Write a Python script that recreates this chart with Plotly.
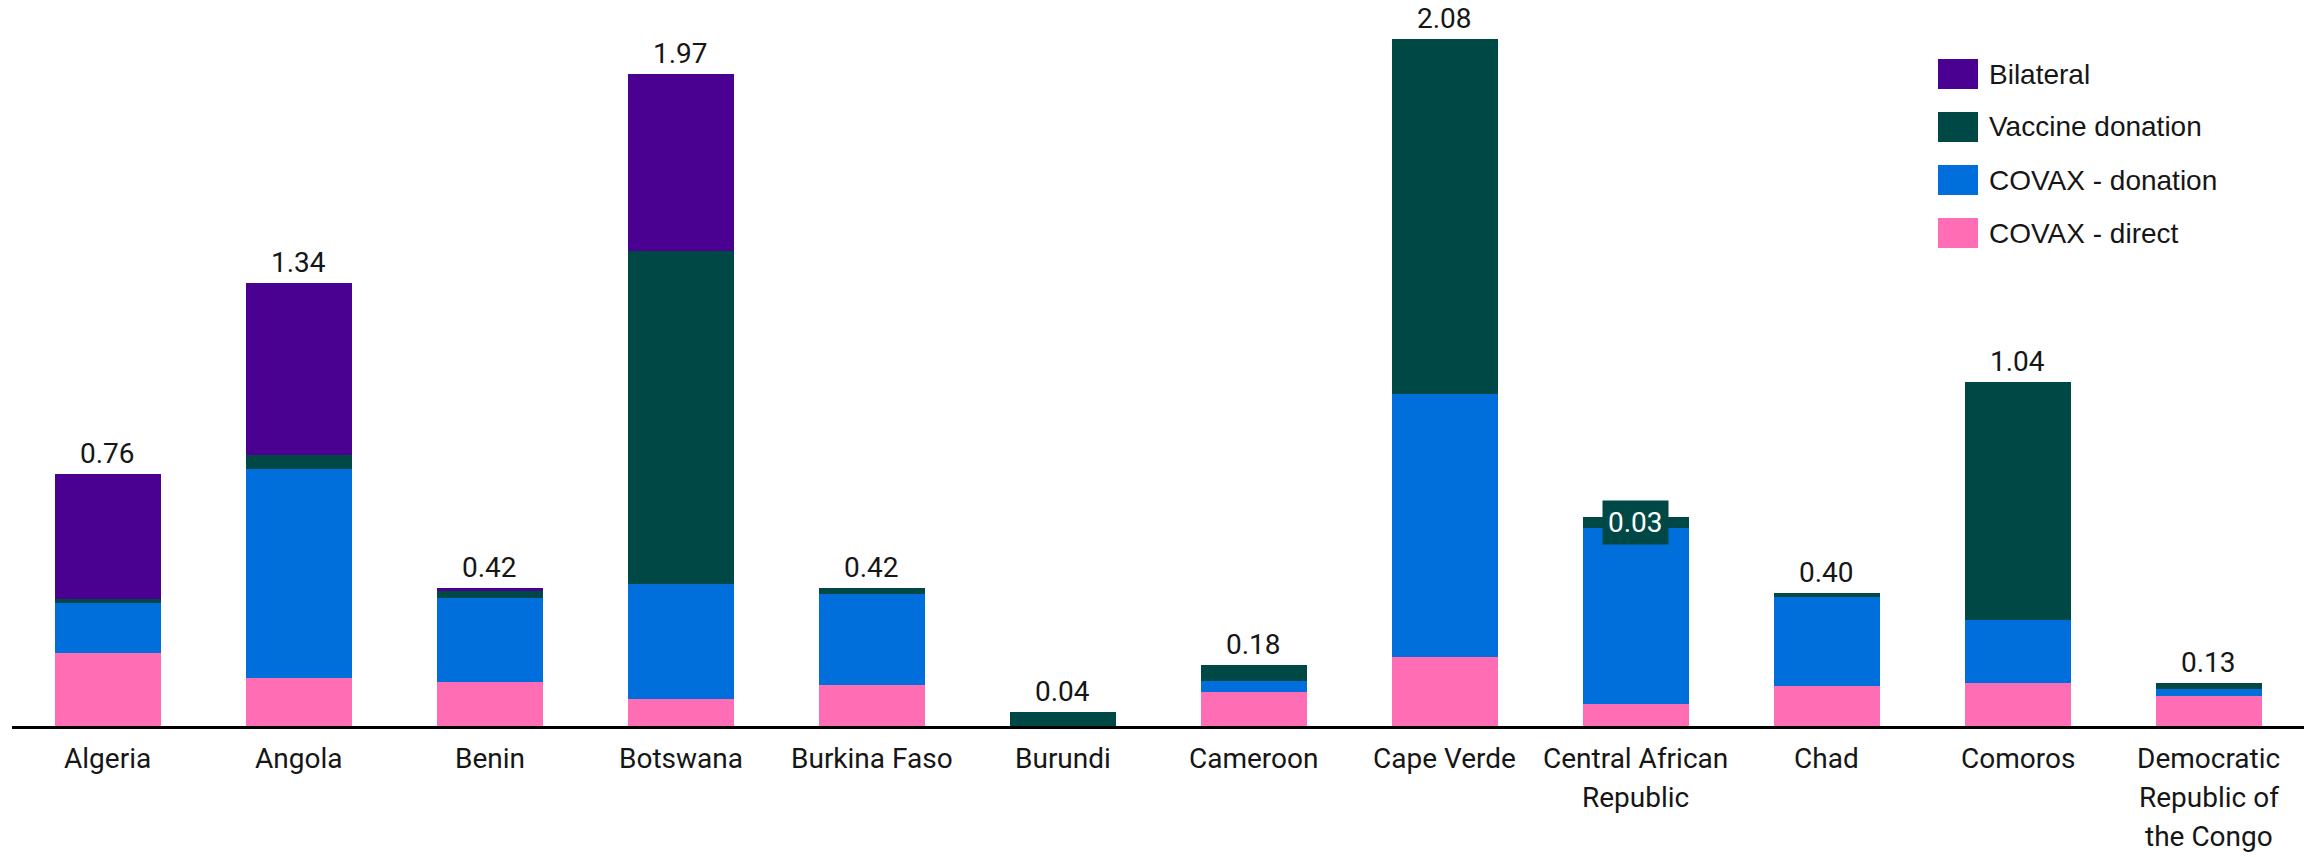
import plotly.graph_objects as go

# Doses per 100 people by delivery channel
countries = ["Algeria", "Angola", "Benin", "Botswana", "Burkina Faso", "Burundi",
             "Cameroon", "Cape Verde", "Central African Republic", "Chad", "Comoros",
             "Democratic Republic of the Congo"]
tick_lines = [["Algeria"], ["Angola"], ["Benin"], ["Botswana"], ["Burkina Faso"], ["Burundi"],
              ["Cameroon"], ["Cape Verde"], ["Central African", "Republic"], ["Chad"], ["Comoros"],
              ["Democratic", "Republic of", "the Congo"]]

covax_direct = [0.222, 0.145, 0.133, 0.082, 0.124, 0.0, 0.103, 0.209, 0.067, 0.120, 0.130, 0.092]
covax_donation = [0.151, 0.633, 0.254, 0.347, 0.274, 0.0, 0.032, 0.794, 0.533, 0.269, 0.190, 0.019]
vaccine_donation = [0.010, 0.042, 0.022, 1.007, 0.019, 0.043, 0.048, 1.073, 0.031, 0.013, 0.720, 0.018]
bilateral = [0.378, 0.519, 0.009, 0.534, 0.0, 0.0, 0.0, 0.0, 0.0, 0.0, 0.0, 0.0]

series = [
    ("COVAX - direct", covax_direct, "#ff6eb4"),
    ("COVAX - donation", covax_donation, "#006fdc"),
    ("Vaccine donation", vaccine_donation, "#004846"),
    ("Bilateral", bilateral, "#4a0090"),
]

W, H = 2308, 857
M_L, M_R, M_T, M_B = 12, 4, 20, 131
PLOT_W = W - M_L - M_R
PLOT_H = H - M_T - M_B
Y_MAX = 2.134

TICK_FONT = "Roboto, Arial, sans-serif"
TEXT_FONT = "Liberation Sans, Arial, sans-serif"

fig = go.Figure()
for name, vals, color in series:
    fig.add_trace(go.Bar(
        x=countries, y=vals, name=name,
        marker=dict(color=color, line=dict(width=0)),
        showlegend=False, hoverinfo="skip",
    ))

totals = [a + b + c + d for a, b, c, d in zip(covax_direct, covax_donation, vaccine_donation, bilateral)]

annotations = []
# Total labels above each stack
for c, t in zip(countries, totals):
    if c == "Central African Republic":
        continue
    annotations.append(dict(
        x=c, y=t, xref="x", yref="y", text=f"{t:.2f}", showarrow=False,
        yanchor="bottom", yshift=2,
        font=dict(family=TICK_FONT, size=28, color="#161616"),
    ))

# Highlighted segment value for Central African Republic
car = countries.index("Central African Republic")
car_mid = covax_direct[car] + covax_donation[car] + vaccine_donation[car] / 2
annotations.append(dict(
    x=countries[car], y=car_mid, xref="x", yref="y",
    text=f"{vaccine_donation[car]:.2f}", showarrow=False,
    bgcolor="#004846", borderpad=5,
    font=dict(family=TICK_FONT, size=28, color="#ffffff"),
))

# Category labels, one line each with generous line spacing
for c, lines in zip(countries, tick_lines):
    for j, line in enumerate(lines):
        annotations.append(dict(
            x=c, y=0, xref="x", yref="paper", text=line, showarrow=False,
            xanchor="center", yanchor="middle", yshift=-32 - 39 * j,
            font=dict(family=TICK_FONT, size=28, color="#161616"),
        ))

# Legend drawn with large swatches
def px_x(p):
    return (p - M_L) / PLOT_W

def px_y(p):
    return (H - M_B - p) / PLOT_H

shapes = []
legend_items = [("Bilateral", "#4a0090"), ("Vaccine donation", "#004846"),
                ("COVAX - donation", "#006fdc"), ("COVAX - direct", "#ff6eb4")]
for k, (name, color) in enumerate(legend_items):
    cy = 74 + 53 * k
    shapes.append(dict(
        type="rect", xref="paper", yref="paper",
        x0=px_x(1938), x1=px_x(1978), y0=px_y(cy + 15), y1=px_y(cy - 15),
        fillcolor=color, line=dict(width=0),
    ))
    annotations.append(dict(
        x=px_x(1987), y=px_y(cy), xref="paper", yref="paper",
        text=name, showarrow=False, xanchor="left", yanchor="middle",
        font=dict(family=TEXT_FONT, size=28, color="#161616"),
    ))

fig.update_layout(
    width=W, height=H,
    margin=dict(l=M_L, r=M_R, t=M_T, b=M_B),
    barmode="stack", bargap=0.445,
    plot_bgcolor="white", paper_bgcolor="white",
    annotations=annotations, shapes=shapes,
    xaxis=dict(
        type="category", showticklabels=False,
        showline=True, linecolor="#000000", linewidth=3,
        showgrid=False, ticks="",
    ),
    yaxis=dict(range=[0, Y_MAX], visible=False, showgrid=False, zeroline=False),
)

fig.write_html("out.html")
